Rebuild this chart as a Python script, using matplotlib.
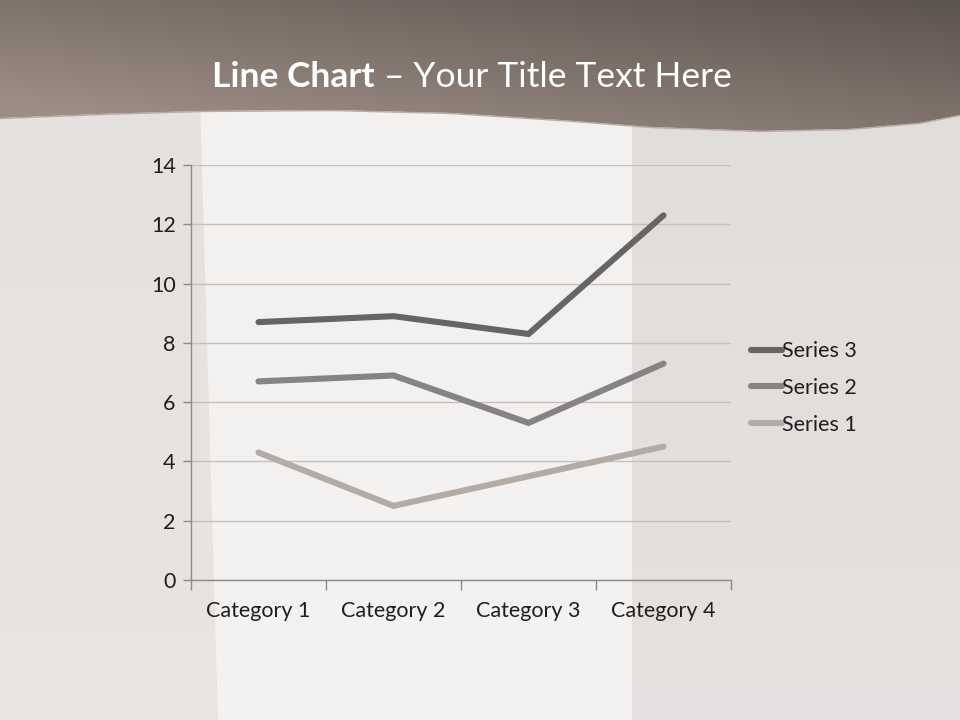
import numpy as np
import matplotlib
matplotlib.use("Agg")
import matplotlib.pyplot as plt
from matplotlib.patches import Polygon

plt.rcParams['font.family'] = ['Lato', 'DejaVu Sans']

# ---- data (stacked line chart: raw series values) ----
categories = ["Category 1", "Category 2", "Category 3", "Category 4"]
series1 = [4.3, 2.5, 3.5, 4.5]
series2 = [2.4, 4.4, 1.8, 2.8]
series3 = [2.0, 2.0, 3.0, 5.0]
series_names = ["Series 1", "Series 2", "Series 3"]
yticks = [0, 2, 4, 6, 8, 10, 12, 14]
colors = ["#b3aba6", "#858383", "#676564"]

W, H = 960, 720
fig = plt.figure(figsize=(9.6, 7.2), dpi=100)

# ---- background decoration ----
bg = fig.add_axes([0, 0, 1, 1])
bg.set_xlim(0, W)
bg.set_ylim(H, 0)
bg.axis("off")
bg.add_patch(Polygon([(0, 0), (W, 0), (W, H), (0, H)], closed=True,
                     facecolor="#e5e1de", edgecolor="none"))
bg.add_patch(Polygon([(200, 100), (632, 100), (632, H), (218, H)], closed=True,
                     facecolor="#f3f1ef", edgecolor="none"))
bg.add_patch(Polygon([(632, 100), (W, 100), (W, H), (632, H)], closed=True,
                     facecolor="#e1dddb", edgecolor="none"))
grad = np.linspace(0, 1, 256).reshape(-1, 1)
bg.imshow(np.dstack([np.ones_like(grad)] * 3 + [0.12 * grad]), extent=[0, W, H, 100],
          aspect="auto", zorder=1)

# header wave with gradient
wave_x = [0, 100, 200, 330, 450, 560, 650, 760, 850, 920, 960]
wave_y = [118, 114, 111, 110, 113, 120, 127, 131, 129, 123, 115]
xs = np.linspace(0, W, 200)
ys = np.interp(xs, wave_x, wave_y)
pts = [(0, 0), (W, 0)] + list(zip(xs[::-1], ys[::-1]))
hdr = Polygon(pts, closed=True, facecolor="none", edgecolor="none")
bg.add_patch(hdr)
gx, gy = np.meshgrid(np.linspace(0, 1, 200), np.linspace(0, 1, 100))
t = np.clip(0.55 * (1 - gx) + 0.6 * gy, 0, 1)
c0 = np.array([0x5d, 0x53, 0x4d]) / 255
c1 = np.array([0x9c, 0x8d, 0x86]) / 255
img = c0[None, None, :] * (1 - t[..., None]) + c1[None, None, :] * t[..., None]
im = bg.imshow(img, extent=[0, W, 135, 0], aspect="auto", zorder=2)
im.set_clip_path(hdr)
bg.plot(xs, ys + 0.5, color="#b8aca6", lw=1.0, zorder=3)

# title: bold + regular parts
title_bold = "Line Chart"
title_rest = " – Your Title Text Here"
tb = fig.text(0.5, 1 - 77 / H, title_bold, color="white", fontsize=25.5,
              fontweight="bold", ha="left", va="center")
tr = fig.text(0.5, 1 - 77 / H, title_rest, color="white", fontsize=25.5,
              ha="left", va="center")
fig.canvas.draw()
r = fig.canvas.get_renderer()
wb = tb.get_window_extent(r).width
wr = tr.get_window_extent(r).width
x0 = 472 - (wb + wr) / 2
tb.set_x(x0 / W)
tr.set_x((x0 + wb) / W)

# ---- chart ----
ax = fig.add_axes([191 / W, 1 - 580 / H, (731 - 191) / W, (580 - 165) / H])
ax.patch.set_alpha(0)
x = np.arange(len(categories))
stack = np.cumsum(np.array([series1, series2, series3]), axis=0)
handles = []
for i in range(3):
    ln, = ax.plot(x, stack[i], color=colors[i], lw=4.4, solid_capstyle="round",
                  solid_joinstyle="miter", zorder=3, label=series_names[i])
    handles.append(ln)
ax.set_xlim(-0.5, len(categories) - 0.5)
ax.set_ylim(0, 14)
ax.set_yticks(yticks)
ax.set_yticklabels([str(v) for v in yticks], fontsize=15.5, color="#1e1e1e")
ax.set_xticks(x)
ax.set_xticklabels(categories, fontsize=15.5, color="#1e1e1e")
ax.set_xticks(np.arange(len(categories) + 1) - 0.5, minor=True)
ax.tick_params(axis="x", which="major", length=0, pad=15)
ax.tick_params(axis="x", which="minor", length=7, width=1, color="#8a8a8a")
ax.tick_params(axis="y", length=6, width=1, color="#8a8a8a", pad=5)
ax.grid(axis="y", color="#c4c0bd", lw=1)
ax.set_axisbelow(True)
for s in ["top", "right"]:
    ax.spines[s].set_visible(False)
for s in ["left", "bottom"]:
    ax.spines[s].set_color("#8a8a8a")
    ax.spines[s].set_linewidth(1)

leg = fig.legend(handles[::-1], series_names[::-1], loc="center left",
                 bbox_to_anchor=(732 / W, 1 - 388 / H), frameon=False,
                 fontsize=15.5, handlelength=1.4, handletextpad=0.0,
                 labelspacing=0.78, labelcolor="#1e1e1e")

fig.savefig("out.png", dpi=100)
